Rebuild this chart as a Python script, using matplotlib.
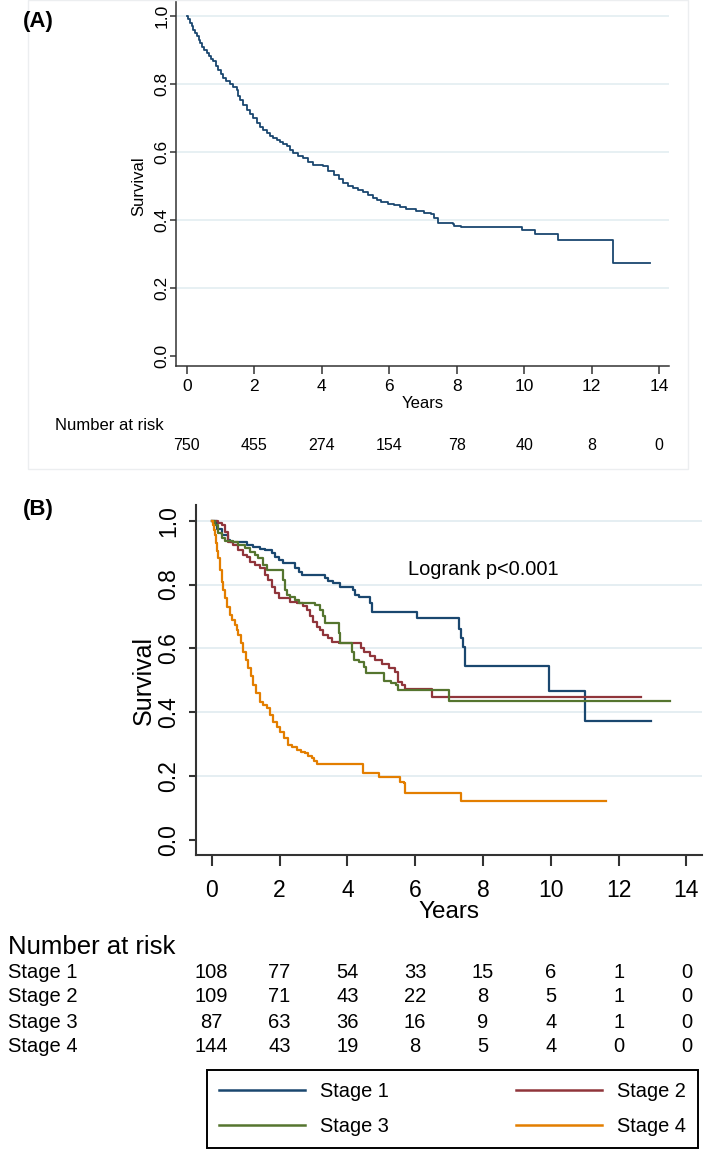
import numpy as np
import matplotlib
matplotlib.use("Agg")
import matplotlib.pyplot as plt
from matplotlib import transforms
from matplotlib.lines import Line2D
from matplotlib.patches import Rectangle

plt.rcParams['font.family'] = ['Liberation Sans', 'DejaVu Sans']

# ---- data ----
years_ticks = [0, 2, 4, 6, 8, 10, 12, 14]
surv_ticks = [0.0, 0.2, 0.4, 0.6, 0.8, 1.0]
grid_y = [0.2, 0.4, 0.6, 0.8, 1.0]

# panel A: overall KM curve
a_time = [0, 0.05, 0.1, 0.15, 0.2, 0.25, 0.3, 0.35, 0.39, 0.45, 0.52, 0.59, 0.65, 0.72,
          0.79, 0.86, 0.94, 1.01, 1.09, 1.17, 1.28, 1.38, 1.48, 1.53, 1.58, 1.68, 1.78,
          1.87, 1.97, 2.07, 2.17, 2.27, 2.37, 2.47, 2.57, 2.67, 2.77, 2.86, 2.96, 3.06,
          3.16, 3.31, 3.46, 3.6, 3.75, 4.05, 4.2, 4.35, 4.5, 4.64, 4.79, 4.94, 5.09,
          5.23, 5.38, 5.53, 5.64, 5.77, 5.97, 6.13, 6.31, 6.51, 6.78, 7.04, 7.24, 7.34,
          7.45, 7.89, 7.92, 8.14, 9.92, 10.32, 10.99, 12.64, 13.73]
a_surv = [1.0, 0.99, 0.98, 0.97, 0.96, 0.95, 0.94, 0.93, 0.92, 0.91, 0.9, 0.89, 0.882,
          0.874, 0.866, 0.853, 0.841, 0.829, 0.817, 0.808, 0.8, 0.791, 0.782, 0.765,
          0.753, 0.738, 0.724, 0.711, 0.699, 0.686, 0.674, 0.664, 0.655, 0.647, 0.64,
          0.635, 0.63, 0.623, 0.616, 0.605, 0.596, 0.588, 0.581, 0.571, 0.562, 0.557,
          0.545, 0.532, 0.52, 0.508, 0.5, 0.493, 0.488, 0.483, 0.474, 0.464, 0.457,
          0.452, 0.447, 0.443, 0.438, 0.432, 0.427, 0.421, 0.417, 0.404, 0.39, 0.388,
          0.383, 0.379, 0.37, 0.357, 0.341, 0.273, 0.273]
a_risk = [750, 455, 274, 154, 78, 40, 8, 0]

# panel B: by stage
s1_time = [0, 0.15, 0.29, 0.49, 0.54, 1.03, 1.23, 1.42, 1.57, 1.77, 1.87, 1.97, 2.11,
           2.46, 2.56, 2.65, 3.34, 3.44, 3.59, 3.78, 4.16, 4.23, 4.33, 4.67, 4.72,
           6.05, 7.3, 7.36, 7.42, 7.46, 9.95, 11.01, 12.96]
s1_surv = [1.0, 0.975, 0.955, 0.939, 0.934, 0.924, 0.919, 0.911, 0.908, 0.898, 0.887,
           0.877, 0.866, 0.851, 0.84, 0.83, 0.82, 0.812, 0.804, 0.793, 0.783, 0.767,
           0.762, 0.741, 0.715, 0.694, 0.661, 0.633, 0.605, 0.545, 0.468, 0.374, 0.374]

s2_time = [0, 0.2, 0.29, 0.39, 0.49, 0.64, 0.79, 0.93, 1.03, 1.13, 1.28, 1.42, 1.57,
           1.67, 1.77, 1.87, 1.97, 2.31, 2.51, 2.7, 2.8, 2.9, 3.0, 3.1, 3.2, 3.29, 3.44,
           3.54, 3.74, 4.4, 4.5, 4.66, 4.82, 5.03, 5.24, 5.4, 5.5, 5.61, 5.71, 6.49, 12.67]
s2_surv = [1.0, 0.993, 0.986, 0.966, 0.934, 0.924, 0.908, 0.893, 0.885, 0.872, 0.861,
           0.851, 0.83, 0.814, 0.793, 0.772, 0.757, 0.746, 0.741, 0.733, 0.72, 0.7,
           0.684, 0.668, 0.658, 0.642, 0.632, 0.621, 0.616, 0.6, 0.59, 0.576, 0.564,
           0.55, 0.538, 0.527, 0.496, 0.485, 0.473, 0.447, 0.447]

s3_time = [0, 0.1, 0.2, 0.29, 0.39, 0.64, 0.79, 0.98, 1.13, 1.28, 1.38, 1.52, 1.62,
           2.11, 2.16, 2.21, 2.31, 2.46, 2.56, 3.05, 3.2, 3.29, 3.34, 3.74, 3.78, 4.13,
           4.19, 4.34, 4.5, 4.55, 5.08, 5.29, 5.45, 5.5, 7.01, 13.53]
s3_surv = [1.0, 0.986, 0.96, 0.945, 0.937, 0.934, 0.924, 0.913, 0.903, 0.892, 0.882,
           0.861, 0.845, 0.814, 0.783, 0.767, 0.762, 0.752, 0.741, 0.736, 0.72, 0.7,
           0.678, 0.647, 0.616, 0.59, 0.564, 0.558, 0.543, 0.524, 0.499, 0.493, 0.485,
           0.47, 0.436, 0.436]

s4_time = [0, 0.03, 0.07, 0.1, 0.13, 0.17, 0.2, 0.24, 0.29, 0.34, 0.39, 0.46, 0.54,
           0.61, 0.69, 0.74, 0.79, 0.86, 0.93, 1.0, 1.08, 1.15, 1.23, 1.32, 1.42, 1.52,
           1.62, 1.72, 1.82, 1.92, 2.01, 2.13, 2.26, 2.38, 2.51, 2.63, 2.75, 2.85, 2.95,
           3.02, 3.1, 4.45, 4.92, 5.55, 5.66, 5.71, 7.35, 11.64]
s4_surv = [1.0, 0.985, 0.97, 0.955, 0.93, 0.905, 0.882, 0.845, 0.809, 0.783, 0.757,
           0.73, 0.705, 0.69, 0.673, 0.657, 0.642, 0.616, 0.59, 0.564, 0.538, 0.512,
           0.485, 0.459, 0.433, 0.422, 0.412, 0.391, 0.371, 0.355, 0.339, 0.318, 0.298,
           0.29, 0.282, 0.276, 0.271, 0.263, 0.256, 0.246, 0.237, 0.211, 0.198, 0.183,
           0.177, 0.148, 0.122, 0.122]

stage_names = ["Stage 1", "Stage 2", "Stage 3", "Stage 4"]
stage_risk = [
    [108, 77, 54, 33, 15, 6, 1, 0],
    [109, 71, 43, 22, 8, 5, 1, 0],
    [87, 63, 36, 16, 9, 4, 1, 0],
    [144, 43, 19, 8, 5, 4, 0, 0],
]
stage_colors = ["#1a476f", "#90353b", "#55752f", "#e37e00"]

# ---- figure ----
W, H = 709, 1156
fig = plt.figure(figsize=(W / 100, H / 100), dpi=100)


def fx(px):
    return px / W


def fy(py):
    return 1 - py / H


grid_col = "#e3edf1"
spine_col = "#333333"

# faint frame around panel A
fig.patches.append(Rectangle((fx(28), fy(469)), fx(688) - fx(28), fy(0) - fy(469),
                             transform=fig.transFigure, fill=False,
                             edgecolor="#eceef0", lw=1))

# ---------- panel A ----------
axA = fig.add_axes([fx(175.7), fy(365.7), (669 - 175.7) / W, 365.7 / H])
for g in grid_y:
    axA.axhline(g, color=grid_col, lw=1.2, zorder=0)
axA.plot(a_time, a_surv, drawstyle="steps-post", color="#1a476f", lw=1.3)
axA.set_xlim(-0.326, 14.29)
axA.set_ylim(-0.0294, 1.047)
axA.set_xticks(years_ticks)
axA.set_yticks(surv_ticks)
axA.set_yticklabels([f"{v:.1f}" for v in surv_ticks])
axA.spines[["top", "right"]].set_visible(False)
for s in ["left", "bottom"]:
    axA.spines[s].set_color(spine_col)
    axA.spines[s].set_linewidth(1.1)
axA.tick_params(axis="x", length=6, width=1.1, color=spine_col, pad=3.6, labelsize=12.5)
axA.tick_params(axis="y", length=4, width=1.1, color=spine_col, pad=0.5, labelsize=12.5,
                labelrotation=90)
for lab in axA.get_yticklabels():
    lab.set_va("center")
axA.set_xlabel("Years", fontsize=12, va="center")
axA.xaxis.set_label_coords(0.5012, -0.102)
axA.set_ylabel("Survival", fontsize=12, va="center")
axA.yaxis.set_label_coords(-0.0744, 0.4918)

trA = transforms.blended_transform_factory(axA.transData, fig.transFigure)
fig.text(fx(55), fy(425), "Number at risk", fontsize=12, va="center", ha="left")
for t, n in zip(years_ticks, a_risk):
    axA.text(t, fy(446), str(n), transform=trA, fontsize=11.5, ha="center", va="center")

fig.text(fx(23), fy(21), "(A)", fontsize=16, fontweight="bold", va="center", ha="left")

# ---------- panel B ----------
axB = fig.add_axes([fx(195.6), fy(855), (702 - 195.6) / W, (855 - 505) / H])
for g in grid_y:
    axB.axhline(g, color=grid_col, lw=1.3, zorder=0)
curves = [(s1_time, s1_surv), (s2_time, s2_surv), (s3_time, s3_surv), (s4_time, s4_surv)]
handles = []
for (tt, ss), col, name in zip(curves, stage_colors, stage_names):
    axB.plot(tt, ss, drawstyle="steps-post", color=col, lw=1.6)
    handles.append(Line2D([], [], color=col, lw=1.8, label=name))
axB.set_xlim(-0.475, 14.46)
axB.set_ylim(-0.047, 1.049)
axB.set_xticks(years_ticks)
axB.set_yticks(surv_ticks)
axB.set_yticklabels([f"{v:.1f}" for v in surv_ticks])
axB.spines[["top", "right"]].set_visible(False)
for s in ["left", "bottom"]:
    axB.spines[s].set_color(spine_col)
    axB.spines[s].set_linewidth(1.5)
axB.tick_params(axis="x", length=8, width=1.5, color=spine_col, pad=9, labelsize=16.5)
axB.tick_params(axis="y", length=5, width=1.5, color=spine_col, pad=6, labelsize=16.5,
                labelrotation=90)
for lab in axB.get_yticklabels():
    lab.set_va("center")
axB.set_xlabel("Years", fontsize=17.5, va="center")
axB.xaxis.set_label_coords(0.5005, -0.163)
axB.set_ylabel("Survival", fontsize=18, va="center")
axB.yaxis.set_label_coords(-0.1019, 0.499)

axB.text(5.79, 0.846, "Logrank p<0.001", fontsize=14.4, ha="left", va="center")

trB = transforms.blended_transform_factory(axB.transData, fig.transFigure)
fig.text(fx(8), fy(947), "Number at risk", fontsize=18.5, va="center", ha="left")
row_y = [973, 997, 1022, 1046]
for name, counts, ry in zip(stage_names, stage_risk, row_y):
    fig.text(fx(8), fy(ry), name, fontsize=14.5, va="center", ha="left")
    for t, n in zip(years_ticks, counts):
        axB.text(t, fy(ry), str(n), transform=trB, fontsize=14.5, ha="center", va="center")

fig.text(fx(23), fy(510), "(B)", fontsize=16, fontweight="bold", va="center", ha="left")

leg = fig.legend(handles=[handles[0], handles[2], handles[1], handles[3]], ncol=2,
                 loc="center", mode="expand",
                 bbox_to_anchor=(fx(207), fy(1150.7), (698 - 207) / W, (1150.7 - 1067.7) / H),
                 fontsize=14.4, handlelength=4.3, handletextpad=0.75, labelspacing=0.8,
                 borderpad=0.6, borderaxespad=0, frameon=True, fancybox=False,
                 edgecolor="black", framealpha=1)
leg.get_frame().set_linewidth(1.4)

fig.savefig("out.png", dpi=100)
